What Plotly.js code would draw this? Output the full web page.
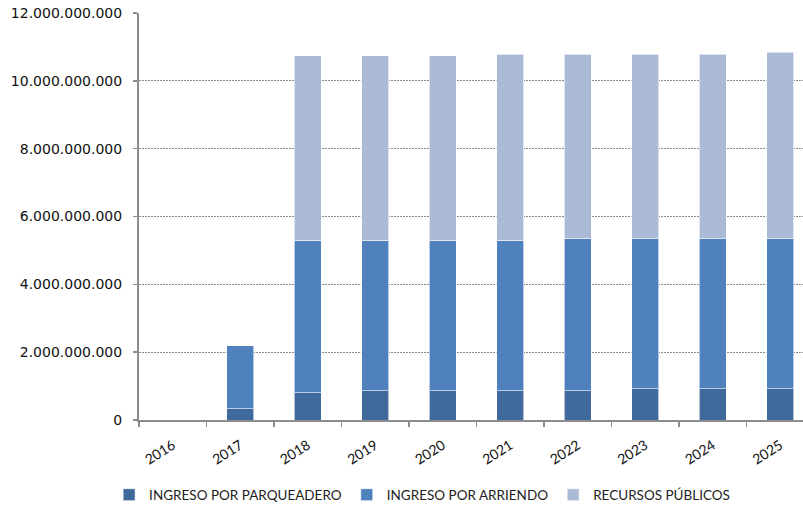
<!DOCTYPE html>
<html>
<head>
<meta charset="utf-8">
<script src="https://cdn.plot.ly/plotly-3.0.1.min.js"></script>
<style>html,body{margin:0;padding:0;background:#fff;}#chart{width:803px;height:508px;}</style>
</head>
<body>
<div id="chart"></div>
<script>
const years = ['2016','2017','2018','2019','2020','2021','2022','2023','2024','2025'];
const parqueadero = [0, 330000000, 800000000, 860000000, 860000000, 860000000, 860000000, 920000000, 920000000, 920000000];
const arriendo = [0, 1860000000, 4480000000, 4420000000, 4420000000, 4420000000, 4480000000, 4420000000, 4420000000, 4420000000];
const publicos = [0, 0, 5460000000, 5460000000, 5460000000, 5510000000, 5450000000, 5450000000, 5450000000, 5500000000];
const seriesNames = ['INGRESO POR PARQUEADERO', 'INGRESO POR ARRIENDO', 'RECURSOS PÚBLICOS'];
const yTickVals = [0, 2000000000, 4000000000, 6000000000, 8000000000, 10000000000, 12000000000];
const yTickText = ['0', '2.000.000.000', '4.000.000.000', '6.000.000.000', '8.000.000.000', '10.000.000.000', '12.000.000.000'];

const FONT = 'Lato, "Open Sans", sans-serif';
const TICKFONT = '"DejaVu Sans", "Open Sans", sans-serif';
const colors = ['#3f6a9b', '#4f81bd', '#aabad7'];
const data = [parqueadero, arriendo, publicos].map((vals, i) => ({
  type: 'bar',
  name: seriesNames[i],
  x: years,
  y: vals,
  marker: {color: colors[i], line: {color: 'rgba(255,255,255,0.6)', width: 1}},
  hoverinfo: 'x+y+name'
}));

const layout = {
  width: 803, height: 508,
  margin: {l: 139, r: 0, t: 13, b: 88, pad: 0, autoexpand: false},
  paper_bgcolor: '#fff', plot_bgcolor: '#fff',
  barmode: 'stack',
  bargap: 0.6,
  font: {family: FONT, size: 14, color: '#111'},
  xaxis: {
    type: 'category',
    automargin: false,
    range: [-0.5, 9.337],
    showline: true, linecolor: '#8c8c8c', linewidth: 2,
    ticks: 'outside', ticklen: 5, tickcolor: '#8c8c8c', tickwidth: 1.5,
    tickson: 'boundaries',
    tickangle: -32,
    ticklabelstandoff: 10,
    showgrid: false,
    tickfont: {family: FONT, size: 14, color: '#111'}
  },
  yaxis: {
    automargin: false,
    range: [0, 12000000000],
    tickvals: yTickVals, ticktext: yTickText,
    showline: true, linecolor: '#8c8c8c', linewidth: 2,
    ticks: 'outside', ticklen: 4, tickcolor: '#8c8c8c', tickwidth: 1.5,
    showgrid: true, gridcolor: '#8a8a8a', gridwidth: 1, griddash: '2px,1px',
    zeroline: false,
    ticklabelstandoff: 8,
    tickfont: {family: TICKFONT, size: 14, color: '#111'}
  },
  legend: {
    orientation: 'h',
    x: -0.045, xanchor: 'left',
    y: -0.184, yanchor: 'middle',
    font: {family: FONT, size: 13.5, color: '#222'},
    traceorder: 'normal',
    itemwidth: 30
  },
  showlegend: true
};

Plotly.newPlot('chart', data, layout, {displayModeBar: false, staticPlot: true});
</script>
</body>
</html>
